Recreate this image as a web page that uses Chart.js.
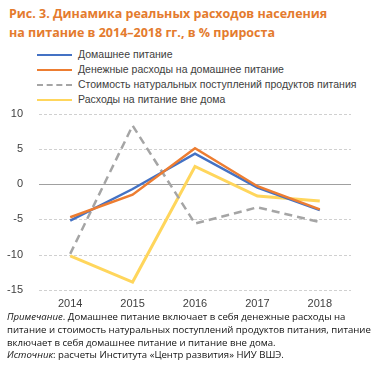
<!DOCTYPE html>
<html>
<head>
<meta charset="utf-8">
<script src="https://cdn.jsdelivr.net/npm/chart.js@4/dist/chart.umd.min.js"></script>
<style>
  body { margin: 0; background: #fff; width: 376px; height: 370px; position: relative; overflow: hidden; }
  .title { position: absolute; left: 9px; top: 4px; font-family: "Open Sans", sans-serif; font-weight: bold; font-size: 12.5px; line-height: 19px; color: #E47B2E; }
  .legend { position: absolute; left: 37px; top: 47px; font-family: "Liberation Sans", Arial, sans-serif; font-size: 10.5px; color: #404040; }
  .legend div { height: 15px; line-height: 15px; white-space: nowrap; }
  .legend span.sw { display: inline-block; width: 35px; height: 0; vertical-align: middle; margin-right: 6px; border-top: 2.5px solid; }
  .chartbox { position: absolute; left: 0; top: 99px; width: 376px; height: 212px; }
  .note { position: absolute; left: 7px; top: 311px; font-family: "Open Sans", sans-serif; font-size: 9.6px; line-height: 12.8px; color: #111; }
</style>
</head>
<body>
<div class="title">Рис. 3. Динамика реальных расходов населения<br>на питание в 2014–2018 гг., в % прироста</div>
<div class="legend" id="legend"></div>
<div class="chartbox"><canvas id="chart"></canvas></div>
<div class="note"><i>Примечание</i>. Домашнее питание включает в себя денежные расходы на<br>питание и стоимость натуральных поступлений продуктов питания, питание<br>включает в себя домашнее питание и питание вне дома.<br><i>Источник</i>: расчеты Института «Центр развития» НИУ ВШЭ.</div>
<script>
var years = ['2014', '2015', '2016', '2017', '2018'];
var homeFood = [-5.2, -0.7, 4.3, -0.5, -3.7];
var cashSpending = [-4.7, -1.5, 5.1, -0.3, -3.6];
var naturalIncome = [-9.9, 8.3, -5.6, -3.3, -5.4];
var eatingOut = [-10.2, -13.9, 2.5, -1.7, -2.4];
var seriesNames = [
  'Домашнее питание',
  'Денежные расходы на домашнее питание',
  'Стоимость натуральных поступлений продуктов питания',
  'Расходы на питание вне дома'
];
var colors = ['#4472C4', '#ED7D31', '#A5A5A5', '#FFD65C'];
var yTicks = [10, 5, 0, -5, -10, -15];

// html legend
var lg = document.getElementById('legend');
seriesNames.forEach(function (name, i) {
  var row = document.createElement('div');
  var sw = document.createElement('span');
  sw.className = 'sw';
  sw.style.borderTopColor = colors[i];
  if (i == 2) sw.style.borderTopStyle = 'dashed';
  row.appendChild(sw);
  row.appendChild(document.createTextNode(name));
  lg.appendChild(row);
});

var ctx = document.getElementById('chart').getContext('2d');
new Chart(ctx, {
  type: 'line',
  data: {
    labels: years,
    datasets: [
      { label: seriesNames[0], data: homeFood, borderColor: colors[0], borderWidth: 2.5, pointRadius: 0, tension: 0, order: 2 },
      { label: seriesNames[1], data: cashSpending, borderColor: colors[1], borderWidth: 2.5, pointRadius: 0, tension: 0, order: 1 },
      { label: seriesNames[2], data: naturalIncome, borderColor: colors[2], borderWidth: 2.5, borderDash: [8, 5], pointRadius: 0, tension: 0, order: 3 },
      { label: seriesNames[3], data: eatingOut, borderColor: colors[3], borderWidth: 3, pointRadius: 0, tension: 0, order: 4 }
    ]
  },
  options: {
    responsive: true,
    maintainAspectRatio: false,
    animation: false,
    layout: { padding: { left: 0, right: 25, top: 0, bottom: 0 } },
    plugins: { legend: { display: false }, tooltip: { enabled: false } },
    scales: {
      x: {
        offset: true,
        grid: { display: false },
        border: { display: false },
        ticks: { color: '#404040', font: { family: 'Liberation Sans', size: 11 }, padding: 0 }
      },
      y: {
        min: -15,
        max: 10,
        afterBuildTicks: function (s) { s.ticks = yTicks.map(function (v) { return { value: v }; }); },
        afterFit: function (s) { s.width = 39; },
        border: { display: false },
        grid: { display: false },
        ticks: { color: '#404040', font: { family: 'Liberation Sans', size: 11 }, padding: 8 }
      }
    }
  },
  plugins: [{
    id: 'dashgrid',
    beforeDatasetsDraw: function (chart) {
      // y gridlines are dashed except the zero line
      var y = chart.scales.y;
      var c = chart.ctx, a = chart.chartArea;
      c.save();
      y.ticks.forEach(function (t) {
        var py = y.getPixelForValue(t.value);
        c.beginPath();
        if (t.value === 0) { c.setLineDash([]); c.strokeStyle = '#A0A0A0'; c.lineWidth = 1.2; }
        else { c.setLineDash([3, 2]); c.strokeStyle = '#D0D0D0'; c.lineWidth = 1; }
        c.moveTo(a.left, Math.round(py) + 0.5);
        c.lineTo(a.right, Math.round(py) + 0.5);
        c.stroke();
      });
      c.restore();
    }
  }]
});
</script>
</body>
</html>
